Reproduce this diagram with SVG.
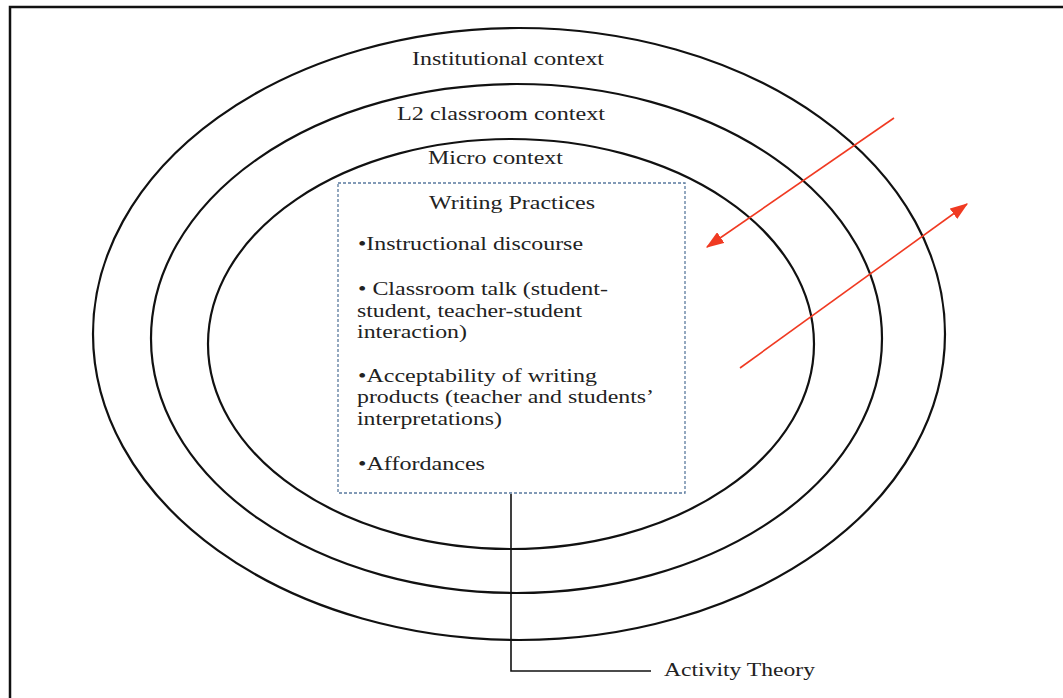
<svg xmlns="http://www.w3.org/2000/svg" width="1063" height="698" viewBox="0 0 1063 698">
<style>
.ring{fill:none;stroke:#111;stroke-width:2.2}
.t{font-family:"Liberation Serif","Times New Roman",serif;font-size:19px;fill:#222}
.red{stroke:#f03a22;stroke-width:1.6;fill:none}
.box{fill:none;stroke:#5a7a9e;stroke-width:1.3;stroke-dasharray:3 2}
.conn{fill:none;stroke:#111;stroke-width:1.6}
</style>
<defs>
<marker id="ah2" viewBox="0 0 14 10" refX="13" refY="5" markerWidth="18" markerHeight="13" markerUnits="userSpaceOnUse" orient="auto">
<path d="M0,0 L14,5 L0,10 Z" fill="#f03a22"/>
</marker>
</defs>
<rect x="0" y="0" width="1063" height="698" fill="#fff"/>
<path d="M10,698 V7 H1063" fill="none" stroke="#111" stroke-width="2.5"/>
<g id="institutional">
<ellipse class="ring" cx="519" cy="334" rx="426" ry="306"/>
<text class="t" x="412" y="65" textLength="192" lengthAdjust="spacingAndGlyphs">Institutional context</text>
</g>
<g id="l2classroom">
<ellipse class="ring" cx="516.5" cy="338.5" rx="365.5" ry="254.5"/>
<text class="t" x="397" y="120" textLength="208" lengthAdjust="spacingAndGlyphs">L2 classroom context</text>
</g>
<g id="micro">
<ellipse class="ring" cx="511" cy="344" rx="303" ry="205"/>
<text class="t" x="428" y="164" textLength="135" lengthAdjust="spacingAndGlyphs">Micro context</text>
</g>
<g id="writing-practices">
<rect class="box" x="338" y="183" width="347" height="310" fill="#fff"/>
<text class="t" x="429" y="209" textLength="166" lengthAdjust="spacingAndGlyphs">Writing Practices</text>
<text class="t" x="358" y="250" textLength="225" lengthAdjust="spacingAndGlyphs">•Instructional discourse</text>
<text class="t" x="358" y="295" textLength="250" lengthAdjust="spacingAndGlyphs">• Classroom talk (student-</text>
<text class="t" x="357" y="317" textLength="225" lengthAdjust="spacingAndGlyphs">student, teacher-student</text>
<text class="t" x="357" y="338" textLength="110" lengthAdjust="spacingAndGlyphs">interaction)</text>
<text class="t" x="358" y="382" textLength="239" lengthAdjust="spacingAndGlyphs">•Acceptability of writing</text>
<text class="t" x="357" y="403" textLength="297" lengthAdjust="spacingAndGlyphs">products (teacher and students’</text>
<text class="t" x="357" y="425" textLength="145" lengthAdjust="spacingAndGlyphs">interpretations)</text>
<text class="t" x="358" y="470" textLength="127" lengthAdjust="spacingAndGlyphs">•Affordances</text>
</g>
<g id="activity-theory">
<text class="t" x="664" y="676" textLength="151" lengthAdjust="spacingAndGlyphs">Activity Theory</text>
</g>
<g id="connectors">
<path class="conn" d="M511,494 V671 H651"/>
<line class="red" x1="894" y1="118" x2="707" y2="247" marker-end="url(#ah2)"/>
<line class="red" x1="740" y1="368" x2="967" y2="204" marker-end="url(#ah2)"/>
</g>
</svg>
